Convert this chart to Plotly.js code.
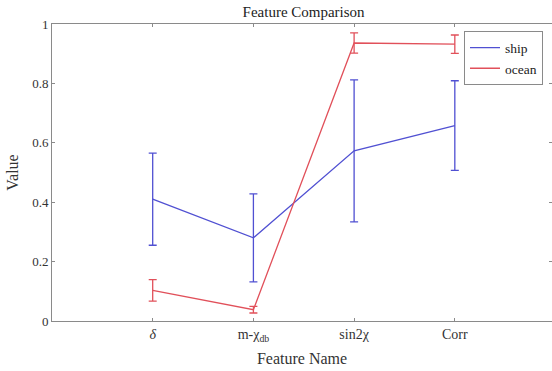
<!DOCTYPE html>
<html>
<head>
<meta charset="utf-8">
<script src="https://cdn.plot.ly/plotly-3.0.1.min.js"></script>
<style>html,body{margin:0;padding:0;overflow:hidden;background:#fff;}</style>
</head>
<body>
<div id="chart" style="width:552px;height:371px;"></div>
<script>
const categories = [1, 2, 3, 4];
const tickLabels = ["<span style=\"font-style:italic\">δ</span>", "m-χ<sub>db</sub>", "sin2χ", "Corr"];
const shipValues = [0.41, 0.28, 0.573, 0.658];
const shipErrors = [0.155, 0.148, 0.239, 0.151];
const oceanValues = [0.103, 0.038, 0.936, 0.932];
const oceanErrors = [0.036, 0.011, 0.034, 0.031];

const blue = "rgb(80,80,210)";
const red = "rgb(225,80,90)";
const serif = "Liberation Serif, Times New Roman, serif";

const traces = [
  {
    x: categories, y: shipValues, name: "ship", type: "scatter", mode: "lines",
    line: {color: blue, width: 1.3},
    error_y: {type: "data", array: shipErrors, visible: true, color: blue, thickness: 1.3, width: 4}
  },
  {
    x: categories, y: oceanValues, name: "ocean", type: "scatter", mode: "lines",
    line: {color: red, width: 1.3},
    error_y: {type: "data", array: oceanErrors, visible: true, color: red, thickness: 1.3, width: 4}
  }
];

const axisCommon = {
  showline: true, mirror: "ticks", linecolor: "#8a8a8a", linewidth: 1,
  ticks: "inside", ticklen: 3, tickcolor: "#8a8a8a", showgrid: false, zeroline: false,
  tickfont: {family: serif, size: 14, color: "#333"}
};

const layout = {
  width: 552, height: 371,
  margin: {l: 52, r: 0, t: 24, b: 50},
  paper_bgcolor: "#fff", plot_bgcolor: "#fff",
  font: {family: serif, color: "#222"},
  title: {text: "Feature Comparison", x: 0.55, xref: "container", xanchor: "center", y: 0.968, yanchor: "middle",
          font: {family: serif, size: 15, color: "#222"}},
  xaxis: Object.assign({}, axisCommon, {
    range: [0, 4.965], tickmode: "array", tickvals: categories, ticktext: tickLabels,
    title: {text: "Feature Name", standoff: 10, font: {family: serif, size: 16, color: "#333"}}
  }),
  yaxis: Object.assign({}, axisCommon, {
    range: [0, 1], tickmode: "array", tickvals: [0, 0.2, 0.4, 0.6, 0.8, 1], ticktext: ["0", "0.2", "0.4", "0.6", "0.8", "1"],
    tickfont: {family: serif, size: 13, color: "#333"},
    title: {text: "Value", standoff: 9, font: {family: serif, size: 16, color: "#333"}}
  }),
  legend: {
    x: 0.982, xanchor: "right", y: 0.975, yanchor: "top",
    bordercolor: "#8a8a8a", borderwidth: 1, bgcolor: "#fff",
    font: {family: serif, size: 13.5, color: "#222"},
    tracegroupgap: 0, itemwidth: 30
  },
  showlegend: true
};

Plotly.newPlot("chart", traces, layout, {displayModeBar: false, staticPlot: true});
</script>
</body>
</html>
